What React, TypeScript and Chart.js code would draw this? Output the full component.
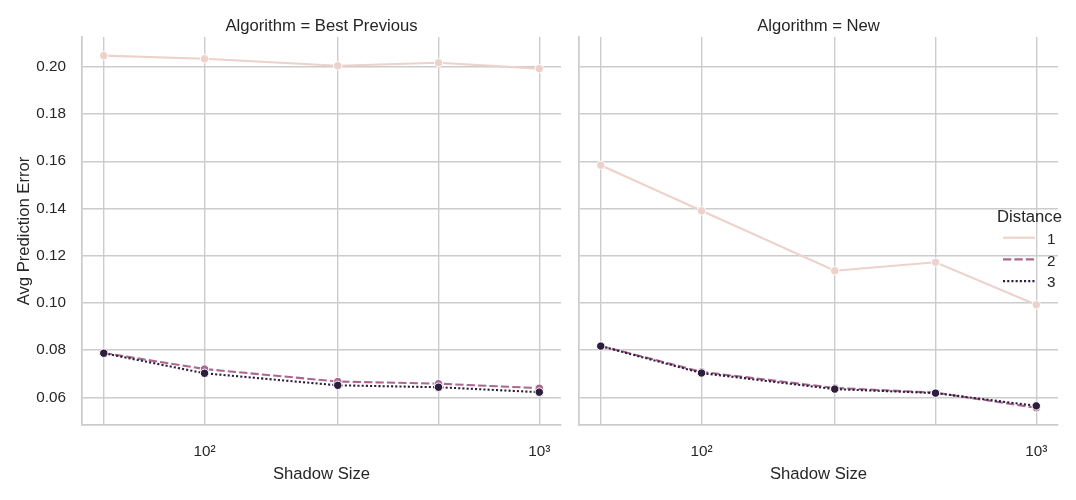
import { useEffect, useRef } from "react"
import { Chart, registerables } from "chart.js"
Chart.register(...registerables)

const SHADOW_SIZES = [50, 100, 250, 500, 1000]
const DISTANCES = ["1", "2", "3"]

// Algorithm = Best Previous
const PREV_D1 = [0.2047, 0.2034, 0.2004, 0.2017, 0.1992]
const PREV_D2 = [0.0788, 0.072, 0.0667, 0.0658, 0.0639]
const PREV_D3 = [0.0787, 0.0702, 0.0651, 0.0643, 0.0622]

// Algorithm = New
const NEW_D1 = [0.1583, 0.139, 0.1136, 0.1172, 0.0992]
const NEW_D2 = [0.0818, 0.0708, 0.064, 0.062, 0.0556]
const NEW_D3 = [0.0817, 0.0703, 0.0635, 0.0618, 0.0564]

const Y_TICKS = [0.06, 0.08, 0.1, 0.12, 0.14, 0.16, 0.18, 0.2]
const X_TICKS = [50, 100, 250, 500, 1000]
const X_LABELS: Record<number, string> = { 100: "10²", 1000: "10³" }

const COLORS = ["#edd1cb", "#aa678f", "#2d1e3e"]
const DASHES = [[], [8.3, 3.1], [2.1, 2.1]]
const GRID = "#cccccc"
const TEXT = "#262626"
const FONT = "'Liberation Sans', Arial, sans-serif"

type PanelProps = {
  series: number[][]
  showY: boolean
  left: number
  width: number
  yWidth: number
  padRight: number
}

function Panel({ series, showY, left, width, yWidth, padRight }: PanelProps) {
  const canvasRef = useRef<HTMLCanvasElement>(null)

  useEffect(() => {
    const canvas = canvasRef.current
    if (!canvas) return

    const chart = new Chart(canvas, {
      type: "line",
      data: {
        datasets: series.map((vals, i) => ({
          label: DISTANCES[i],
          data: vals.map((v, j) => ({ x: SHADOW_SIZES[j], y: v })),
          borderColor: COLORS[i],
          backgroundColor: COLORS[i],
          borderWidth: 2.08,
          borderDash: DASHES[i],
          pointRadius: 4.2,
          pointHoverRadius: 4.2,
          pointBackgroundColor: COLORS[i],
          pointBorderColor: "#ffffff",
          pointBorderWidth: 1,
          fill: false,
          tension: 0,
          order: 3 - i, // distance 3 ends up on top, like seaborn
        })),
      },
      options: {
        responsive: false,
        animation: false,
        layout: { padding: { left: 0, right: padRight, top: 37, bottom: 0 } },
        plugins: { legend: { display: false }, tooltip: { enabled: false } },
        scales: {
          x: {
            type: "logarithmic",
            min: 43.05,
            max: 1161,
            afterBuildTicks: (s) => { s.ticks = X_TICKS.map((v) => ({ value: v })) },
            afterFit: (s) => { s.height = 75 },
            ticks: {
              autoSkip: false,
              maxRotation: 0,
              padding: 18,
              color: TEXT,
              font: { family: FONT, size: 15.28 },
              callback: (v) => X_LABELS[Number(v)] ?? "",
            },
            grid: { color: GRID, lineWidth: 1.39, drawTicks: false },
            border: { color: GRID, width: 1.74 },
            title: {
              display: true,
              text: "Shadow Size",
              color: TEXT,
              font: { family: FONT, size: 16.67 },
              padding: { top: 0, bottom: 16 },
            },
          },
          y: {
            type: "linear",
            min: 0.0483,
            max: 0.2126,
            afterBuildTicks: (s) => { s.ticks = Y_TICKS.map((v) => ({ value: v })) },
            afterFit: (s) => { s.width = yWidth },
            ticks: {
              display: showY,
              padding: 16,
              color: TEXT,
              font: { family: FONT, size: 15.28 },
              callback: (v) => Number(v).toFixed(2),
            },
            grid: { color: GRID, lineWidth: 1.39, drawTicks: false },
            border: { color: GRID, width: 1.74 },
            title: {
              display: showY,
              text: "Avg Prediction Error",
              color: TEXT,
              font: { family: FONT, size: 16.67 },
              padding: { top: 14, bottom: 0 },
            },
          },
        },
      },
    })

    return () => { chart.destroy() }
  }, [series, showY, yWidth, padRight])

  return (
    <canvas
      ref={canvasRef}
      width={width}
      height={500}
      style={{ position: "absolute", left, top: 0, width, height: 500 }}
    />
  )
}

export default function App() {
  return (
    <div style={{ position: "absolute", left: 0, top: 0, width: 1076, height: 500, background: "#fff", overflow: "hidden" }}>
      <Panel series={[PREV_D1, PREV_D2, PREV_D3]} showY left={0} width={570} yWidth={82} padRight={9} />
      <Panel series={[NEW_D1, NEW_D2, NEW_D3]} showY={false} left={570} width={506} yWidth={9} padRight={18} />

      <svg width={1076} height={500} style={{ position: "absolute", left: 0, top: 0, pointerEvents: "none" }}>
        <g fontFamily={FONT} fill={TEXT}>
          <text x={321.5} y={30.5} fontSize={16.67} textAnchor="middle">Algorithm = Best Previous</text>
          <text x={818.5} y={30.5} fontSize={16.67} textAnchor="middle">Algorithm = New</text>
          <text x={1029.5} y={222.3} fontSize={16.67} textAnchor="middle">Distance</text>
          {DISTANCES.map((d, i) => (
            <g key={d}>
              <line
                x1={1003}
                x2={1035}
                y1={237.7 + i * 21.7}
                y2={237.7 + i * 21.7}
                stroke={COLORS[i]}
                strokeWidth={2.08}
                strokeDasharray={DASHES[i].length ? DASHES[i].join(" ") : undefined}
              />
              <text x={1047} y={244 + i * 21.5} fontSize={15.28}>{d}</text>
            </g>
          ))}
        </g>
      </svg>
    </div>
  )
}
